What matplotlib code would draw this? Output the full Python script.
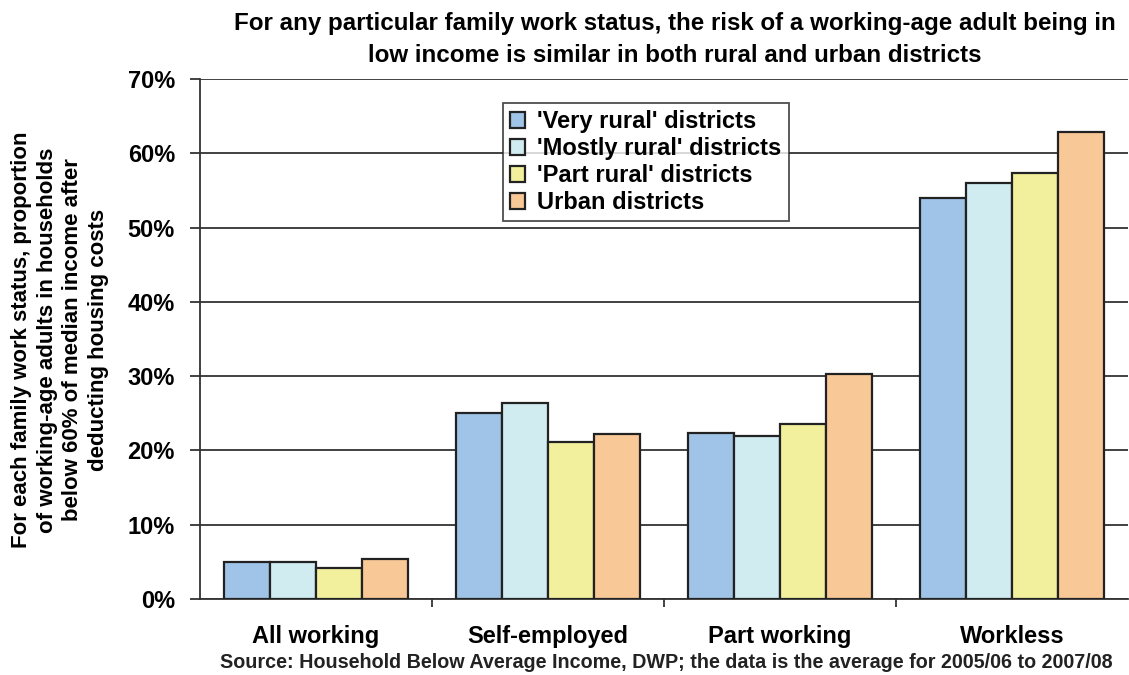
import matplotlib.pyplot as plt
import numpy as np

plt.rcParams['font.family'] = ['Liberation Sans', 'DejaVu Sans']

categories = ['All working', 'Self-employed', 'Part working', 'Workless']
series_names = ["'Very rural' districts", "'Mostly rural' districts",
                "'Part rural' districts", 'Urban districts']
very_rural = [5.0, 25.0, 22.4, 54.0]
mostly_rural = [5.0, 26.4, 22.0, 56.0]
part_rural = [4.2, 21.2, 23.6, 57.3]
urban = [5.4, 22.2, 30.3, 62.9]
colors = ['#9FC4E8', '#D0ECF0', '#F2F09C', '#F8C896']

fig = plt.figure(figsize=(11.29, 6.75), dpi=100)
ax = fig.add_axes([200 / 1129, 1 - 599 / 675, (1128 - 200) / 1129, (599 - 79) / 675])

x = np.arange(len(categories))
w = 0.198
for i, (vals, name, c) in enumerate(zip([very_rural, mostly_rural, part_rural, urban],
                                        series_names, colors)):
    ax.bar(x + (i - 1.5) * w, vals, w, color=c, edgecolor='#222222', linewidth=1.6,
           label=name, zorder=3)

ax.set_xlim(-0.5, 3.5)
ax.set_ylim(0, 70)
ax.set_yticks(range(0, 71, 10))
ax.set_yticklabels([f'{v}%' for v in range(0, 71, 10)], fontsize=17, fontweight='bold')
ax.yaxis.grid(True, color='#333333', linewidth=1.3, zorder=0)
ax.set_xticks(x)
ax.set_xticklabels(categories, fontsize=17, fontweight='bold')
ax.tick_params(axis='x', length=0, pad=19)
ax.set_xticks([0.5, 1.5, 2.5], minor=True)
ax.tick_params(axis='x', which='minor', length=6, width=1.3, color='#333333')
ax.tick_params(axis='y', length=7, width=1.3, color='#333333', pad=11)
for s in ['top', 'right']:
    ax.spines[s].set_visible(False)
for s in ['left', 'bottom']:
    ax.spines[s].set_color('#333333')
    ax.spines[s].set_linewidth(1.3)

leg = ax.legend(loc='upper left', bbox_to_anchor=((503 - 200) / 928, 1 - (103 - 79) / 520),
                prop={'weight': 'bold', 'size': 17}, frameon=True, fancybox=False,
                handlelength=0.65, handleheight=0.65, handletextpad=0.5,
                borderpad=0.3, labelspacing=0.17, borderaxespad=0)
leg.get_frame().set_edgecolor('#222222')
leg.get_frame().set_linewidth(1.3)
leg.set_zorder(5)

fig.text(0.598, 1 - 12 / 675,
         'For any particular family work status, the risk of a working-age adult being in\n'
         'low income is similar in both rural and urban districts',
         ha='center', va='top', fontsize=17.4, fontweight='bold', linespacing=1.5)

fig.text(60 / 1129, 1 - 340 / 675,
         'For each family work status, proportion\nof working-age adults in households\n'
         'below 60% of median income after\ndeducting housing costs',
         ha='center', va='center', rotation=90, fontsize=16, fontweight='bold',
         linespacing=1.3)

fig.text(220 / 1129, 1 - 663 / 675,
         'Source: Household Below Average Income, DWP; the data is the average for 2005/06 to 2007/08',
         ha='left', va='center', fontsize=14.2, fontweight='bold', color='#222222')

fig.savefig('out.png', dpi=100)
